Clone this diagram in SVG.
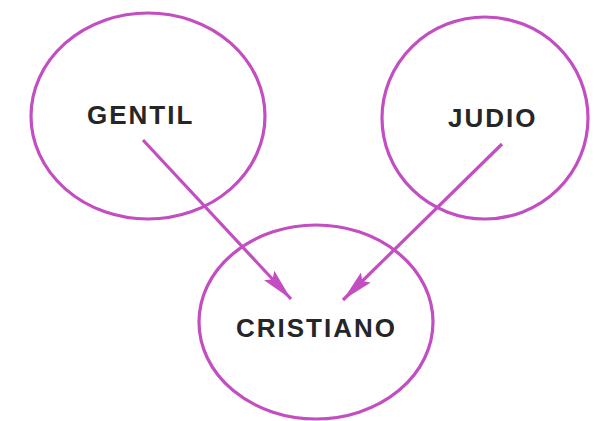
<svg xmlns="http://www.w3.org/2000/svg" width="596" height="421" viewBox="0 0 596 421">
<defs>
<style>
.node{fill:none;stroke:#c24ec2;stroke-width:3.2}
.lbl{font-family:"Liberation Sans",Arial,sans-serif;font-weight:bold;font-size:26px;letter-spacing:2px;fill:#262626}
.edge{stroke:#c24ec2;stroke-width:3.2;fill:none}
</style>
<marker id="ah" markerUnits="userSpaceOnUse" markerWidth="34" markerHeight="18" refX="32" refY="9" orient="auto" viewBox="0 0 34 18">
<path d="M0,2 L32,9 L0,16 L5,9 Z" fill="#c24ec2"/>
</marker>
</defs>
<rect width="596" height="421" fill="#ffffff"/>
<g id="gentil">
<ellipse class="node" cx="148" cy="116" rx="117" ry="103"/>
<text class="lbl" x="87" y="124">GENTIL</text>
</g>
<g id="judio">
<ellipse class="node" cx="485" cy="118" rx="103" ry="101"/>
<text class="lbl" x="448" y="127">JUDIO</text>
</g>
<g id="cristiano">
<ellipse class="node" cx="316" cy="322" rx="117" ry="97"/>
<text class="lbl" x="236" y="337">CRISTIANO</text>
</g>
<g id="connectors">
<line class="edge" x1="143" y1="140" x2="291" y2="299" marker-end="url(#ah)"/>
<line class="edge" x1="502" y1="144" x2="343" y2="300" marker-end="url(#ah)"/>
</g>
</svg>
